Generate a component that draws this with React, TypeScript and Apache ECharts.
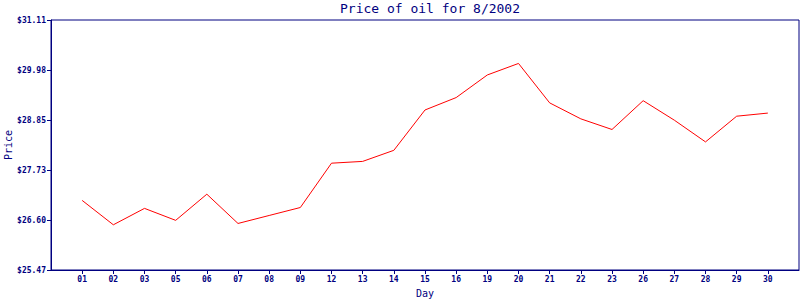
import React, { useEffect, useRef } from "react";
import * as echarts from "echarts";

const days = ["01", "02", "03", "05", "06", "07", "08", "09", "12", "13", "14", "15", "16", "19", "20", "21", "22", "23", "26", "27", "28", "29", "30"];
const prices = [27.04, 26.49, 26.86, 26.59, 27.18, 26.52, 26.70, 26.88, 27.88, 27.92, 28.17, 29.08, 29.36, 29.87, 30.13, 29.24, 28.88, 28.64, 29.29, 28.85, 28.36, 28.94, 29.01];
const yMin = 25.47;
const yMax = 31.11;
const yStep = 1.128;

const NAVY = "#000080";

export default function App() {
  const ref = useRef<HTMLDivElement>(null);
  useEffect(() => {
    if (!ref.current) return;
    const chart = echarts.init(ref.current, null, { renderer: "svg" });
    const cats = ["", ...days, ""];
    const data = [null, ...prices, null];
    chart.setOption({
      animation: false,
      backgroundColor: "#ffffff",
      title: {
        text: "Price of oil for 8/2002",
        left: 425,
        textAlign: "center",
        top: -3,
        textStyle: { color: NAVY, fontFamily: "DejaVu Sans Mono", fontSize: 13, fontWeight: "normal" },
      },
      graphic: [
        {
          type: "text",
          x: 8,
          y: 145,
          rotation: Math.PI / 2,
          style: {
            text: "Price",
            align: "center",
            verticalAlign: "middle",
            fill: NAVY,
            font: "10px 'DejaVu Sans Mono'",
          },
        },
      ],
      grid: {
        left: 51,
        right: 1,
        top: 20,
        bottom: 30,
        show: true,
        borderColor: NAVY,
        borderWidth: 1,
        containLabel: false,
        outerBoundsMode: "none",
      },
      xAxis: {
        type: "category",
        data: cats,
        boundaryGap: false,
        name: "Day",
        nameLocation: "middle",
        nameGap: 18,
        nameTextStyle: { color: NAVY, fontFamily: "DejaVu Sans Mono", fontSize: 10 },
        axisLine: { lineStyle: { color: NAVY, width: 1 } },
        axisTick: {
          show: true,
          length: 4,
          lineStyle: { color: NAVY },
          interval: (idx: number) => idx > 0 && idx < cats.length - 1,
        },
        axisLabel: {
          interval: 0,
          margin: 5,
          color: NAVY,
          fontFamily: "DejaVu Sans Mono",
          fontSize: 8,
          fontWeight: "bold",
        },
        splitLine: { show: false },
      },
      yAxis: {
        type: "value",
        min: yMin,
        max: yMax,
        interval: yStep,
        axisLine: { show: true, lineStyle: { color: NAVY, width: 1 } },
        axisTick: { show: true, length: 4, lineStyle: { color: NAVY } },
        axisLabel: {
          margin: 5,
          color: NAVY,
          fontFamily: "DejaVu Sans Mono",
          fontSize: 8,
          fontWeight: "bold",
          formatter: (v: number) => "$" + v.toFixed(2),
        },
        splitLine: { show: false },
      },
      series: [
        {
          type: "line",
          data,
          showSymbol: false,
          symbol: "none",
          lineStyle: { color: "#ff0000", width: 1 },
          itemStyle: { color: "#ff0000" },
        },
      ],
    });
    return () => chart.dispose();
  }, []);
  return <div ref={ref} style={{ position: "fixed", left: 0, top: 0, width: 800, height: 300 }} />;
}
